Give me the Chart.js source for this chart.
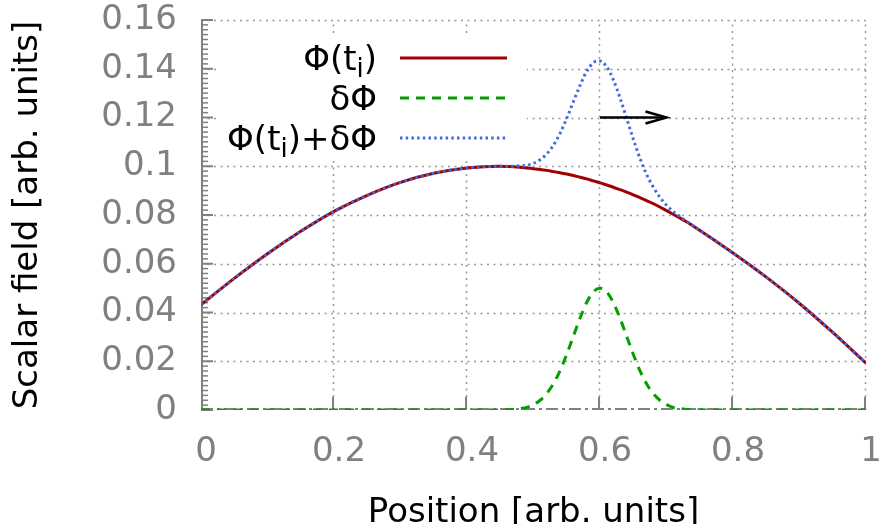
<!DOCTYPE html>
<html lang="en">
<head>
  <meta charset="UTF-8" />
  <title>Scalar field</title>
  <script src="https://cdn.jsdelivr.net/npm/chart.js"></script>
  <style>
    body { margin: 0; background: #fff; }
    #wrap { width: 880px; height: 524px; }
  </style>
</head>
<body>
  <div id="wrap">
    <canvas id="chart" width="880" height="524"></canvas>
  </div>

<script>
  // data
  var positions = [0, 0.05, 0.1, 0.15, 0.2, 0.25, 0.3, 0.35, 0.4, 0.45,
    0.46, 0.47, 0.48, 0.49, 0.50, 0.51, 0.52, 0.53, 0.54, 0.55, 0.56, 0.57, 0.58, 0.59, 0.60,
    0.61, 0.62, 0.63, 0.64, 0.65, 0.66, 0.67, 0.68, 0.69, 0.70, 0.71, 0.72, 0.73, 0.74,
    0.8, 0.85, 0.9, 0.95, 1];

  var phiValues = [0.0432, 0.0540, 0.0641, 0.0733, 0.0815, 0.0881, 0.0934, 0.0971, 0.0993, 0.1000,
    0.0999, 0.0998, 0.0996, 0.0993, 0.0990, 0.0987, 0.0983, 0.0978, 0.0973, 0.0968, 0.0962, 0.0955, 0.0948, 0.0940, 0.0932,
    0.0923, 0.0914, 0.0904, 0.0894, 0.0883, 0.0871, 0.0859, 0.0847, 0.0833, 0.0818, 0.0803, 0.0788, 0.0772, 0.0755,
    0.0644, 0.0545, 0.0437, 0.0318, 0.0192];

  var deltaValues = [0, 0, 0, 0, 0, 0, 0, 0, 0, 0,
    0.0001, 0.0002, 0.0006, 0.0011, 0.0022, 0.0040, 0.0068, 0.0108, 0.0162, 0.0229, 0.0303, 0.0377, 0.0441, 0.0485, 0.0500,
    0.0485, 0.0441, 0.0377, 0.0303, 0.0229, 0.0162, 0.0108, 0.0068, 0.0040, 0.0022, 0.0011, 0.0006, 0.0002, 0.0001,
    0, 0, 0, 0, 0];

  var sumValues = [0.0432, 0.0540, 0.0641, 0.0733, 0.0815, 0.0881, 0.0934, 0.0971, 0.0993, 0.1000,
    0.1000, 0.1000, 0.1002, 0.1004, 0.1012, 0.1027, 0.1051, 0.1086, 0.1135, 0.1197, 0.1265, 0.1332, 0.1389, 0.1425, 0.1432,
    0.1408, 0.1355, 0.1281, 0.1197, 0.1112, 0.1033, 0.0967, 0.0915, 0.0873, 0.0840, 0.0814, 0.0794, 0.0774, 0.0756,
    0.0644, 0.0545, 0.0437, 0.0318, 0.0192];

  var xTickLabels = ['0', '0.2', '0.4', '0.6', '0.8', '1'];
  var yTickLabels = ['0', '0.02', '0.04', '0.06', '0.08', '0.1', '0.12', '0.14', '0.16'];
  var legendLabels = ['Φ(t_i)', 'δΦ', 'Φ(t_i)+δΦ'];
  var arrowFrom = [0.6, 0.12];
  var arrowTo = [0.7, 0.12];

  var FONT = 'DejaVu Sans';
  var GRAY = '#808080';
  var colors = ['#a00000', '#00a000', '#4169e1'];
  var dashes = [[], [9, 7], [2.5, 3.2]];
  var widths = [3, 3, 3];

  function pts(values) {
    return positions.map(function (x, i) { return { x: x, y: values[i] }; });
  }

  // texto com subscrito simples: "t_i"
  function drawRich(ctx, label, rightX, baseline) {
    var parts = label.split(/_(\w)/);
    var big = '34px "' + FONT + '"', small = '26px "' + FONT + '"';
    var total = 0;
    parts.forEach(function (p, i) {
      ctx.font = (i % 2) ? small : big;
      total += ctx.measureText(p).width;
    });
    var x = rightX - total;
    ctx.textAlign = 'left';
    ctx.textBaseline = 'alphabetic';
    parts.forEach(function (p, i) {
      ctx.font = (i % 2) ? small : big;
      ctx.fillText(p, x, baseline + ((i % 2) ? 7 : 0));
      x += ctx.measureText(p).width;
    });
  }

  var decor = {
    id: 'decor',
    beforeDatasetsDraw: function (chart) {
      var ctx = chart.ctx, xs = chart.scales.x, ys = chart.scales.y;
      var a = chart.chartArea;
      ctx.save();
      // grid pontilhado
      ctx.strokeStyle = '#999';
      ctx.lineWidth = 1.5;
      ctx.setLineDash([2, 4.5]);
      xs.ticks.forEach(function (t) {
        if (t.value === 0) return;
        var px = Math.round(xs.getPixelForValue(t.value)) - 0.5;
        ctx.beginPath(); ctx.moveTo(px, a.bottom); ctx.lineTo(px, a.top); ctx.stroke();
      });
      ys.ticks.forEach(function (t) {
        if (t.value === 0) return;
        var py = Math.round(ys.getPixelForValue(t.value)) + 0.5;
        ctx.beginPath(); ctx.moveTo(a.left, py); ctx.lineTo(a.right, py); ctx.stroke();
      });

      // eixo esquerdo + ticks
      ctx.setLineDash([]);
      ctx.strokeStyle = GRAY;
      ctx.lineWidth = 2;
      ctx.beginPath(); ctx.moveTo(a.left + 1, a.bottom); ctx.lineTo(a.left + 1, a.top); ctx.stroke();
      for (var i = 0; i <= 80; i++) {
        var py = ys.getPixelForValue(i * 0.002);
        var len = (i % 10 === 0) ? 12 : 7;
        ctx.lineWidth = (i % 10 === 0) ? 2 : 1.5;
        ctx.beginPath(); ctx.moveTo(a.left, py); ctx.lineTo(a.left + len, py); ctx.stroke();
      }

      // eixo zero traço-ponto + ticks em x
      ctx.lineWidth = 2;
      ctx.setLineDash([12, 4, 3, 4]);
      var y0 = ys.getPixelForValue(0) - 1;
      ctx.beginPath(); ctx.moveTo(a.left, y0); ctx.lineTo(a.right, y0); ctx.stroke();
      ctx.setLineDash([]);
      xs.ticks.forEach(function (t) {
        if (t.value === 0) return;
        var px = xs.getPixelForValue(t.value) - 1;
        ctx.beginPath(); ctx.moveTo(px, y0); ctx.lineTo(px, y0 - 12); ctx.stroke();
      });
      ctx.restore();
    },
    afterDatasetsDraw: function (chart) {
      var ctx = chart.ctx, xs = chart.scales.x, ys = chart.scales.y;
      ctx.save();
      // seta
      var x1 = xs.getPixelForValue(arrowFrom[0]), y1 = ys.getPixelForValue(arrowFrom[1]);
      var x2 = xs.getPixelForValue(arrowTo[0]), y2 = ys.getPixelForValue(arrowTo[1]);
      ctx.strokeStyle = '#000';
      ctx.lineWidth = 2.5;
      ctx.beginPath(); ctx.moveTo(x1, y1); ctx.lineTo(x2, y2); ctx.stroke();
      ctx.beginPath();
      ctx.moveTo(x2 - 21, y2 - 6); ctx.lineTo(x2, y2); ctx.lineTo(x2 - 21, y2 + 6);
      ctx.stroke();

      // legenda (caixa opaca)
      ctx.fillStyle = '#fff';
      ctx.fillRect(220, 37, 307, 123);
      ctx.fillStyle = '#000';
      legendLabels.forEach(function (lab, i) {
        var ry = 58 + i * 40;
        drawRich(ctx, lab, 377, ry + 12);
        ctx.strokeStyle = colors[i];
        ctx.lineWidth = widths[i];
        ctx.setLineDash(dashes[i]);
        ctx.beginPath(); ctx.moveTo(400, ry); ctx.lineTo(507, ry); ctx.stroke();
      });
      ctx.restore();
    }
  };

  var lineCommon = { pointRadius: 0, fill: false, cubicInterpolationMode: 'monotone' };

  var config = {
    type: 'line',
    data: {
      datasets: [
        Object.assign({ label: legendLabels[0], data: pts(phiValues), borderColor: colors[0], borderWidth: widths[0], borderDash: dashes[0], order: 2 }, lineCommon),
        Object.assign({ label: legendLabels[1], data: pts(deltaValues), borderColor: colors[1], borderWidth: widths[1], borderDash: dashes[1], order: 1 }, lineCommon),
        Object.assign({ label: legendLabels[2], data: pts(sumValues), borderColor: colors[2], borderWidth: widths[2], borderDash: dashes[2], order: 0 }, lineCommon)
      ]
    },
    options: {
      responsive: false,
      animation: false,
      layout: { padding: { top: 20, right: 14, left: 0, bottom: 0 } },
      plugins: { legend: { display: false }, tooltip: { enabled: false } },
      scales: {
        x: {
          type: 'linear', min: 0, max: 1,
          grid: { display: false, drawTicks: false },
          border: { display: false },
          ticks: {
            stepSize: 0.2, padding: 25, labelOffset: 5, maxRotation: 0, autoSkip: false,
            color: GRAY, font: { family: FONT, size: 34, lineHeight: 1 },
            callback: function (v, i) { return xTickLabels[i]; }
          },
          title: {
            display: true, text: 'Position [arb. units]', color: '#000',
            font: { family: FONT, size: 34, lineHeight: 1 },
            padding: { top: 0, bottom: -6 }
          },
          afterFit: function (s) { s.height = 114; s.paddingLeft = 0; s.paddingRight = 0; }
        },
        y: {
          min: 0, max: 0.16,
          grid: { display: false, drawTicks: false },
          border: { display: false },
          ticks: {
            stepSize: 0.02, padding: 24,
            color: GRAY, font: { family: FONT, size: 34, lineHeight: 1 },
            callback: function (v, i) { return yTickLabels[i]; }
          },
          title: {
            display: true, text: 'Scalar field [arb. units]', color: '#000',
            font: { family: FONT, size: 34, lineHeight: 1 },
            padding: { top: 11, bottom: 0 }
          },
          afterFit: function (s) { s.width = 201; s.paddingTop = 0; s.paddingBottom = 0; }
        }
      }
    },
    plugins: [decor]
  };

  var chart = new Chart(document.getElementById('chart').getContext('2d'), config);
</script>
</body>
</html>
